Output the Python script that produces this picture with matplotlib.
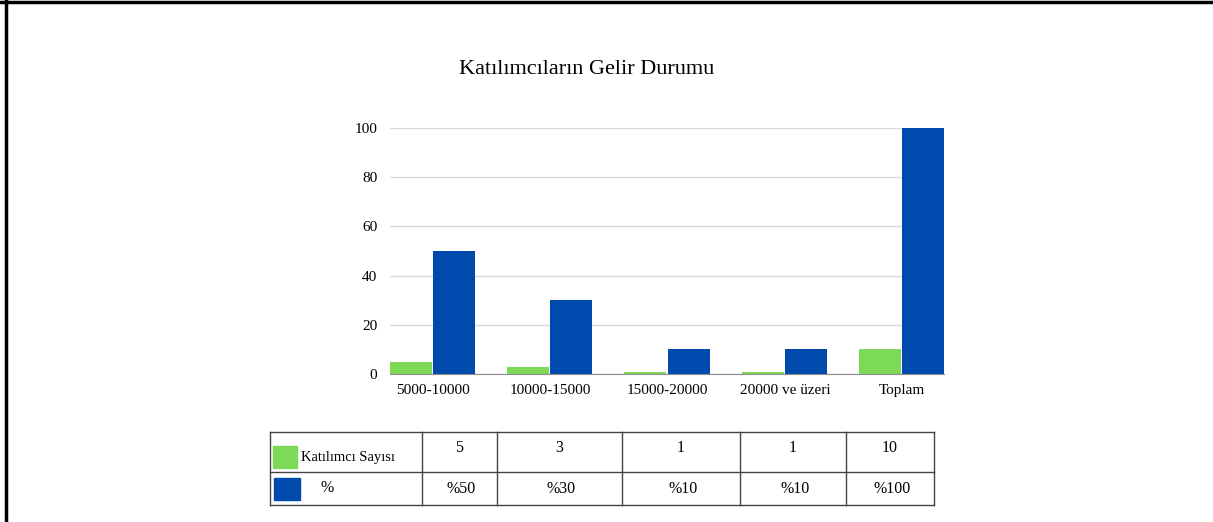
import matplotlib
matplotlib.use("Agg")
import matplotlib.pyplot as plt
import numpy as np
from matplotlib.patches import Rectangle

plt.rcParams['font.family'] = ['Liberation Serif', 'DejaVu Serif']

# data
categories = ['5000-10000', '10000-15000', '15000-20000', '20000 ve üzeri', 'Toplam']
katilimci = [5, 3, 1, 1, 10]
yuzde = [50, 30, 10, 10, 100]
yuzde_labels = ['%50', '%30', '%10', '%10', '%100']
series_names = ['Katılımcı Sayısı', '%']

GREEN = '#7dda58'
BLUE = '#004aad'

W, H = 1213, 522
fig = plt.figure(figsize=(W / 100, H / 100), dpi=100)

# chart area (pixel positions converted to fractions)
ax = fig.add_axes([390 / W, (H - 374) / H, 554 / W, 246 / H])
x = np.arange(len(categories))
bw = 0.3575
ax.bar(x - bw / 2, katilimci, bw, color=GREEN, zorder=3)
ax.bar(x + bw / 2 + 0.01, yuzde, bw, color=BLUE, zorder=3)
ax.set_xlim(-bw, len(categories) - 1 + bw + 0.01)
ax.set_ylim(0, 100)
ax.set_yticks(range(0, 101, 20))
ax.set_xticks(x + 0.01)
ax.set_xticklabels(categories, fontsize=11)
ax.tick_params(axis='y', length=0, pad=9, labelsize=11)
ax.tick_params(axis='x', length=0, pad=7)
ax.grid(axis='y', color='#d9d9d9', linewidth=1, zorder=0)
for s in ['top', 'right', 'left']:
    ax.spines[s].set_visible(False)
ax.spines['bottom'].set_color('#8c8c8c')
ax.spines['bottom'].set_zorder(4)

fig.text(587 / W, 1 - 70 / H, 'Katılımcıların Gelir Durumu', ha='center', va='center', fontsize=16)

# overlay in pixel coordinates for the data table and frame
ov = fig.add_axes([0, 0, 1, 1])
ov.set_xlim(0, W)
ov.set_ylim(H, 0)
ov.axis('off')

cols = [270, 422, 497, 622, 740, 846, 934]
rows = [432, 472, 505]
for cx in cols:
    ov.plot([cx, cx], [rows[0], rows[-1]], color='#444444', lw=1)
for ry in rows:
    ov.plot([cols[0], cols[-1]], [ry, ry], color='#444444', lw=1)

ov.add_patch(Rectangle((273, 446), 24, 22, color=GREEN))
ov.add_patch(Rectangle((274, 478), 26, 22, color=BLUE))
ov.text(301, 457, series_names[0], ha='left', va='center', fontsize=10.5)
ov.text(327, 488, series_names[1], ha='center', va='center', fontsize=11.5)

for i in range(len(categories)):
    cx = (cols[i + 1] + cols[i + 2]) / 2
    ov.text(cx, 448, str(katilimci[i]), ha='center', va='center', fontsize=11.5)
    ov.text(cx + 2, 489, yuzde_labels[i], ha='center', va='center', fontsize=11.5)

# outer frame (top and left)
ov.plot([0, W], [2, 2], color='black', lw=2.5)
ov.plot([6, 6], [0, H], color='black', lw=2.5)

fig.savefig('out.png', dpi=100)
